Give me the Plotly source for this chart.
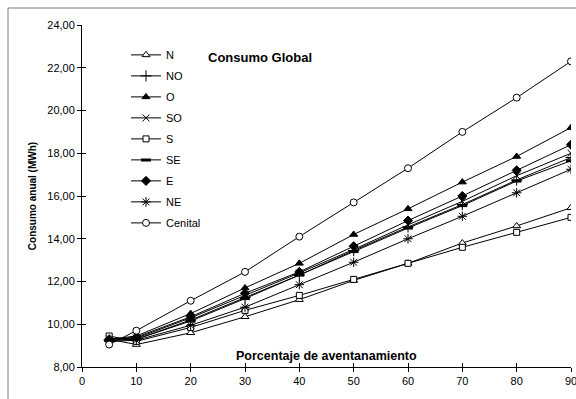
import plotly.graph_objects as go

x = [5, 10, 20, 30, 40, 50, 60, 70, 80, 90]
N = [9.3, 9.05, 9.6, 10.35, 11.15, 12.05, 12.85, 13.8, 14.6, 15.45]
NO = [9.25, 9.3, 10.2, 11.25, 12.3, 13.45, 14.55, 15.6, 16.75, 17.8]
O = [9.3, 9.45, 10.5, 11.7, 12.85, 14.2, 15.4, 16.65, 17.85, 19.2]
SO = [9.3, 9.35, 10.3, 11.35, 12.4, 13.5, 14.65, 15.75, 16.95, 18.0]
S = [9.45, 9.2, 9.85, 10.65, 11.35, 12.1, 12.85, 13.6, 14.3, 15.0]
SE = [9.25, 9.3, 10.15, 11.2, 12.3, 13.4, 14.5, 15.55, 16.7, 17.65]
E = [9.3, 9.4, 10.35, 11.45, 12.45, 13.65, 14.85, 16.0, 17.2, 18.4]
NE = [9.2, 9.25, 9.95, 10.8, 11.85, 12.9, 14.0, 15.05, 16.15, 17.25]
Cenital = [9.05, 9.7, 11.1, 12.45, 14.1, 15.7, 17.3, 19.0, 20.6, 22.3]

series = [
    ("N", N, dict(symbol="triangle-up", size=7, color="white", line=dict(color="black", width=1))),
    ("NO", NO, dict(symbol="cross-thin", size=8, color="black", line=dict(color="black", width=1))),
    ("O", O, dict(symbol="triangle-up", size=7, color="black", line=dict(color="black", width=1))),
    ("SO", SO, dict(symbol="x-thin", size=7, color="black", line=dict(color="black", width=1))),
    ("S", S, dict(symbol="square", size=6, color="white", line=dict(color="black", width=1))),
    ("SE", SE, dict(symbol="line-ew", size=7, color="black", line=dict(color="black", width=3))),
    ("E", E, dict(symbol="diamond", size=7, color="black", line=dict(color="black", width=1))),
    ("NE", NE, dict(symbol="asterisk", size=8, color="black", line=dict(color="black", width=1))),
    ("Cenital", Cenital, dict(symbol="circle", size=7, color="white", line=dict(color="black", width=1))),
]

fig = go.Figure()
for name, vals, mk in series:
    fig.add_trace(go.Scatter(x=x, y=vals, name=name, mode="lines+markers", legendgroup=name,
                             line=dict(color="black", width=1), marker=mk))

# invisible trace on overlay axis for crossing ticks
fig.add_trace(go.Scatter(x=[0], y=[8], xaxis="x2", yaxis="y2", mode="markers",
                         marker=dict(opacity=0), showlegend=False, hoverinfo="skip"))

font_family = "Liberation Sans, Arial, sans-serif"
ticks = [0, 10, 20, 30, 40, 50, 60, 70, 80, 90]
yticks = [8, 10, 12, 14, 16, 18, 20, 22, 24]

fig.update_layout(
    width=576, height=399,
    margin=dict(l=82, r=5, t=25, b=32, autoexpand=False),
    paper_bgcolor="white", plot_bgcolor="white",
    separators=",.",
    font=dict(family=font_family, size=11, color="black"),
    showlegend=True,
    legend=dict(x=0.09, y=0.955, xanchor="left", yanchor="top",
                bgcolor="rgba(0,0,0,0)", font=dict(size=11),
                itemwidth=30, tracegroupgap=2),
    xaxis=dict(range=[0, 90], tickvals=ticks, automargin=False,
               showgrid=False, zeroline=False, showline=True, linecolor="black", linewidth=1,
               ticks="outside", ticklen=4, tickcolor="black", tickfont=dict(size=11),
               ticklabeloverflow="allow"),
    yaxis=dict(range=[8, 24], tickvals=yticks, tickformat=".2f", automargin=False,
               showgrid=False, zeroline=False, showline=True, linecolor="black", linewidth=1,
               ticks="outside", ticklen=4, tickcolor="black", tickfont=dict(size=11),
               title=dict(text="<b>Consumo anual (MWh)</b>", font=dict(size=10), standoff=8)),
    xaxis2=dict(overlaying="x", range=[0, 90], tickvals=ticks, automargin=False,
                showticklabels=False, showgrid=False, zeroline=False, showline=False,
                ticks="inside", ticklen=4, tickcolor="black", anchor="y2", side="bottom"),
    yaxis2=dict(overlaying="y", range=[8, 24], tickvals=yticks, automargin=False,
                showticklabels=False, showgrid=False, zeroline=False, showline=False,
                ticks="inside", ticklen=4, tickcolor="black", anchor="x2", side="left"),
    annotations=[
        dict(text="<b>Consumo Global</b>", x=0.253, y=0.905, xref="paper", yref="paper",
             xanchor="left", yanchor="middle", showarrow=False, font=dict(size=13)),
        dict(text="<b>Porcentaje de aventanamiento</b>", x=0.5, y=0.0, xref="paper", yref="paper",
             xanchor="center", yanchor="bottom", yshift=2, showarrow=False, font=dict(size=12.5)),
    ],
    shapes=[
        dict(type="line", xref="paper", yref="paper", x0=-0.1513, x1=-0.1513, y0=1.0497, y1=-0.2,
             line=dict(color="#7f7f7f", width=1)),
        dict(type="line", xref="paper", yref="paper", x0=-0.1513, x1=1.1, y0=1.0497, y1=1.0497,
             line=dict(color="#7f7f7f", width=1)),
    ],
)

fig.write_html("out.html")
